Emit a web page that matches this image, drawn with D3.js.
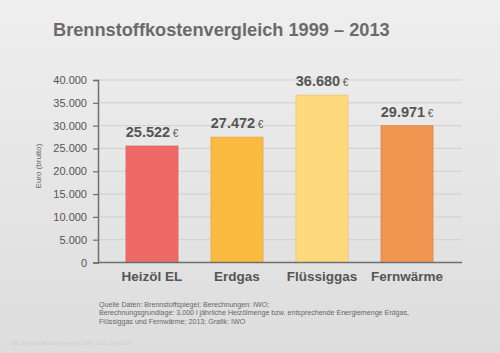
<!DOCTYPE html>
<html>
<head>
<meta charset="utf-8">
<script src="https://cdn.jsdelivr.net/npm/d3@7"></script>
<style>
  html, body { margin: 0; padding: 0; }
  body { width: 500px; height: 353px; overflow: hidden; }
  svg text { font-family: "Liberation Sans", Arial, Helvetica, sans-serif; }
</style>
</head>
<body>
<svg id="chart" width="500" height="353"></svg>
<script>
// chart data
var categories = ["Heizöl EL", "Erdgas", "Flüssiggas", "Fernwärme"];
var values = [25522, 27472, 36680, 29971];
var barColors = ["#ee6a67", "#fbba40", "#ffd97b", "#f0954f"];
var yTicks = [0, 5000, 10000, 15000, 20000, 25000, 30000, 35000, 40000];
var footnotes = [
  "Quelle Daten: Brennstoffspiegel; Berechnungen: IWO;",
  "Berechnungsgrundlage: 3.000 l jährliche Heizölmenge bzw. entsprechende Energiemenge Erdgas,",
  "Flüssiggas und Fernwärme; 2013; Grafik: IWO"
];

var svg = d3.select("#chart");

// german number format 25.522
var de = d3.formatLocale({ decimal: ",", thousands: ".", grouping: [3], currency: ["", " €"] });
var fmt = de.format(",");

// background
var defs = svg.append("defs");
var grad = defs.append("linearGradient")
  .attr("id", "bg")
  .attr("x1", 0).attr("y1", 0).attr("x2", 0).attr("y2", 1);
grad.append("stop").attr("offset", "0%").attr("stop-color", "#efefef");
grad.append("stop").attr("offset", "100%").attr("stop-color", "#dddddd");

svg.append("rect")
  .attr("width", 500).attr("height", 353)
  .attr("fill", "url(#bg)");

var x = d3.scaleBand()
  .domain(categories)
  .range([109.5, 449.5])
  .paddingInner(0.388)
  .paddingOuter(0.194);

var y = d3.scaleLinear()
  .domain([0, 40000])
  .range([262.5, 80]);

var plotLeft = 98, plotRight = 462;

// title
svg.append("text")
  .attr("x", 53)
  .attr("y", 36)
  .attr("font-size", 18.2)
  .attr("font-weight", "bold")
  .attr("fill", "#6b6b6b")
  .text("Brennstoffkostenvergleich 1999 – 2013");

// gridlines
svg.append("g")
  .selectAll("line")
  .data(yTicks.filter(function(d) { return d > 0; }))
  .join("line")
  .attr("x1", plotLeft).attr("x2", plotRight)
  .attr("y1", function(d) { return y(d); })
  .attr("y2", function(d) { return y(d); })
  .attr("stroke", "#cfcfcf")
  .attr("stroke-width", 1);

// bars
svg.append("g")
  .selectAll("rect")
  .data(values)
  .join("rect")
  .attr("x", function(d, i) { return x(categories[i]); })
  .attr("y", function(d) { return y(d); })
  .attr("width", x.bandwidth())
  .attr("height", function(d) { return y(0) - y(d); })
  .attr("fill", function(d, i) { return barColors[i]; })
  .attr("stroke", function(d, i) { return d3.color(barColors[i]).darker(0.25); })
  .attr("stroke-width", 0.8);

// value labels
var labels = svg.append("g")
  .selectAll("text")
  .data(values)
  .join("text")
  .attr("x", function(d, i) { return x(categories[i]) + x.bandwidth() / 2; })
  .attr("y", function(d) { return y(d) - 9; })
  .attr("text-anchor", "middle")
  .attr("fill", "#555");
labels.append("tspan")
  .attr("font-size", 14.5)
  .attr("font-weight", "bold")
  .text(function(d) { return fmt(d); });
labels.append("tspan")
  .attr("font-size", 10)
  .attr("dx", 2.5)
  .text("€");

// y axis
var yAxis = d3.axisLeft(y)
  .tickValues(yTicks)
  .tickSize(5)
  .tickPadding(6)
  .tickFormat(fmt);

var gy = svg.append("g")
  .attr("transform", "translate(" + plotLeft + ",0)")
  .call(yAxis);
gy.select(".domain").attr("stroke", "#6f6f6f").attr("stroke-width", 1.5);
gy.selectAll(".tick line").attr("stroke", "#6f6f6f").attr("stroke-width", 1.2);
gy.selectAll(".tick text")
  .attr("font-size", 11)
  .attr("fill", "#555")
  .style("font-family", "'Liberation Sans', Arial, sans-serif");

// baseline
svg.append("line")
  .attr("x1", plotLeft).attr("x2", plotRight)
  .attr("y1", y(0)).attr("y2", y(0))
  .attr("stroke", "#6f6f6f")
  .attr("stroke-width", 1.5);

// y axis title
svg.append("text")
  .attr("transform", "translate(41," + 166 + ") rotate(-90)")
  .attr("text-anchor", "middle")
  .attr("font-size", 8)
  .attr("fill", "#666")
  .text("Euro (brutto)");

// category labels
svg.append("g")
  .selectAll("text")
  .data(categories)
  .join("text")
  .attr("x", function(d) { return x(d) + x.bandwidth() / 2; })
  .attr("y", 281)
  .attr("text-anchor", "middle")
  .attr("font-size", 13.5)
  .attr("font-weight", "bold")
  .attr("fill", "#555")
  .text(function(d) { return d; });

// footnotes
svg.append("g")
  .selectAll("text")
  .data(footnotes)
  .join("text")
  .attr("x", 99)
  .attr("y", function(d, i) { return 306.5 + i * 8.6; })
  .attr("font-size", 7.1)
  .attr("fill", "#666")
  .text(function(d) { return d; });

// file name watermark
svg.append("text")
  .attr("x", 10)
  .attr("y", 345)
  .attr("font-size", 5)
  .attr("fill", "#cfcfcf")
  .text("395_Brennstoffkostenvergleich_1999_2013_20140207");
</script>
</body>
</html>
